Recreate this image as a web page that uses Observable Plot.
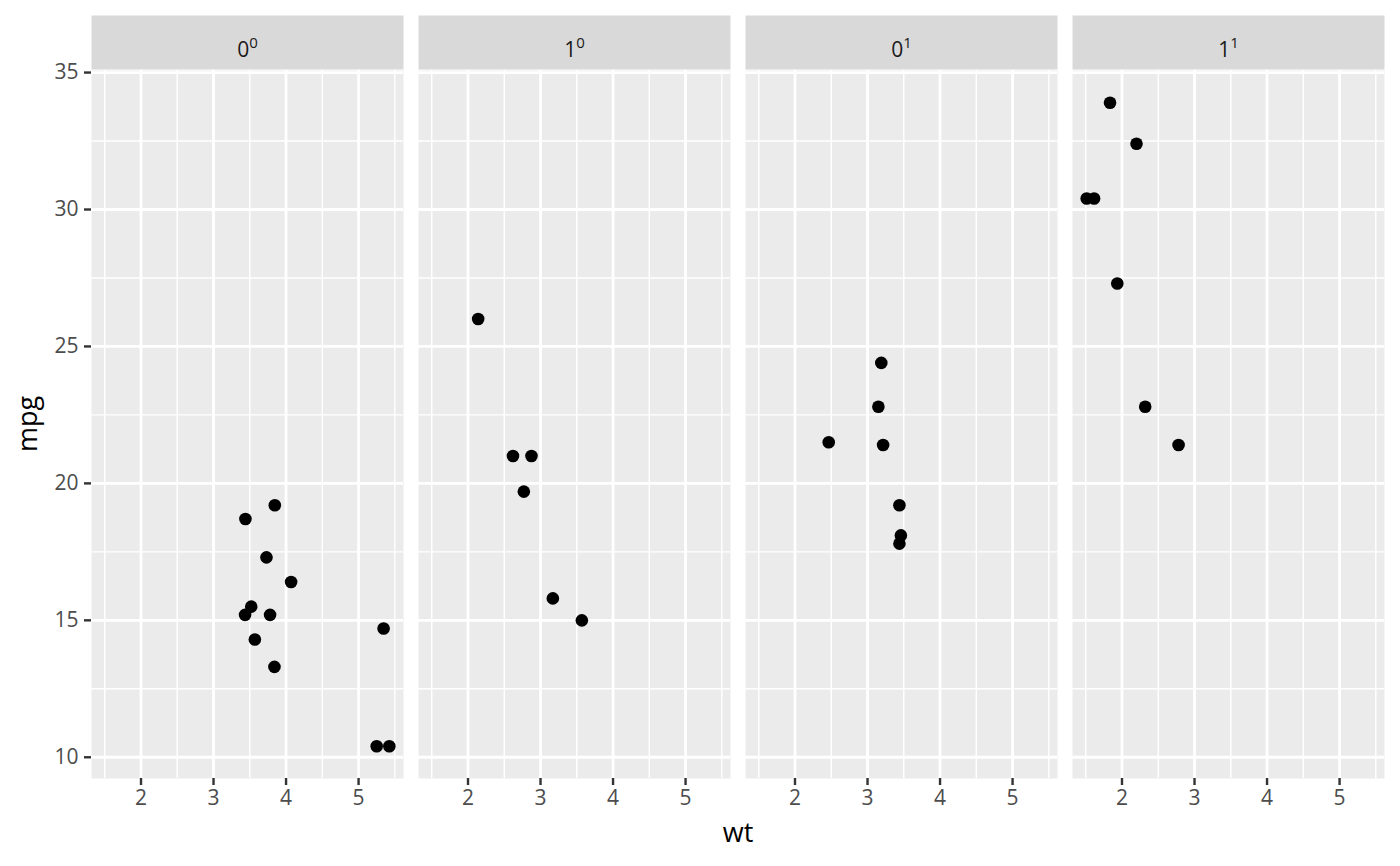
<!DOCTYPE html>
<html><head><meta charset="utf-8">
<script src="https://cdn.jsdelivr.net/npm/d3@7"></script>
<script src="https://cdn.jsdelivr.net/npm/@observablehq/plot@0.6"></script>
<style>body{margin:0;background:#fff;}</style>
</head><body><div id="chart"></div>
<script>
// mtcars: wt, mpg, vs, am
const wt  = [2.620,2.875,2.320,3.215,3.440,3.460,3.570,3.190,3.150,3.440,3.440,4.070,3.730,3.780,5.250,5.424,5.345,2.200,1.615,1.835,2.465,3.520,3.435,3.840,3.845,1.935,2.140,1.513,3.170,2.770,3.570,2.780];
const mpg = [21.0,21.0,22.8,21.4,18.7,18.1,14.3,24.4,22.8,19.2,17.8,16.4,17.3,15.2,10.4,10.4,14.7,32.4,30.4,33.9,21.5,15.5,15.2,13.3,19.2,27.3,26.0,30.4,15.8,19.7,15.0,21.4];
const vs  = [0,0,1,1,0,1,0,1,1,1,1,0,0,0,0,0,0,1,1,1,1,0,0,0,0,1,0,1,0,0,0,1];
const am  = [1,1,1,0,0,0,0,0,0,0,0,0,0,0,0,0,0,1,1,1,0,0,0,0,0,1,1,1,1,1,1,1];

const facetKeys = ["0_0","1_0","0_1","1_1"];
const stripBase = ["0","1","0","1"];
const stripSup  = ["0","0","1","1"];
const xMajor = [2,3,4,5];
const xMinor = [1.5,2.5,3.5,4.5,5.5];
const yMajor = [10,15,20,25,30,35];
const yMinor = [12.5,17.5,22.5,27.5,32.5];

const cars = wt.map((w,i)=>({wt:w, mpg:mpg[i], key:`${am[i]}_${vs[i]}`}));
const strips = facetKeys.map((k,i)=>({key:k, label: stripBase[i]+"^"+stripSup[i]}));

function expand(ext){ const d=(ext[1]-ext[0])*0.05; return [ext[0]-d, ext[1]+d]; }
const xDom = expand(d3.extent(wt));
const yDom = expand(d3.extent(mpg));

const FONT = "'Open Sans', sans-serif";
const STRIP_H = 54, STRIP_GAP = 1;

function stripRender(index, scales, values, dimensions, context, next){
  const g = next(index, scales, values, dimensions, context);
  const rects = g.tagName === "rect" ? [g] : Array.from(g.querySelectorAll("rect"));
  for (const r of rects){
    r.setAttribute("y", dimensions.marginTop - STRIP_H - STRIP_GAP);
    r.setAttribute("height", STRIP_H);
  }
  return g;
}
function supRender(index, scales, values, dimensions, context, next){
  const g = next(index, scales, values, dimensions, context);
  const ns = "http://www.w3.org/2000/svg";
  const texts = g.tagName === "text" ? [g] : Array.from(g.querySelectorAll("text"));
  for (const t of texts){
    const [b, s] = t.textContent.split("^");
    t.textContent = "";
    const t1 = document.createElementNS(ns,"tspan"); t1.textContent = b;
    const t2 = document.createElementNS(ns,"tspan"); t2.textContent = s;
    t2.setAttribute("font-size","15"); t2.setAttribute("dy","-9");
    t.append(t1, t2);
  }
  return g;
}

const chart = Plot.plot({
  width: 1400, height: 866,
  marginLeft: 91, marginRight: 15, marginTop: 70, marginBottom: 88,
  style: {fontFamily: FONT, background: "#fff"},
  fx: {domain: facetKeys, paddingInner: 0.0458, paddingOuter: 0, axis: null, label: null},
  x: {domain: xDom},
  y: {domain: yDom},
  marks: [
    Plot.frame({fill: "#ebebeb", stroke: "none"}),
    Plot.ruleX(xMinor, {stroke: "#fff", strokeWidth: 1.4}),
    Plot.ruleY(yMinor, {stroke: "#fff", strokeWidth: 1.4}),
    Plot.ruleX(xMajor, {stroke: "#fff", strokeWidth: 2.8}),
    Plot.ruleY(yMajor, {stroke: "#fff", strokeWidth: 2.8}),
    Plot.frame({fill: "#d9d9d9", stroke: "none", render: stripRender}),
    Plot.text(strips, {fx: "key", text: "label", frameAnchor: "top", dy: -28, fontSize: 21, fill: "#1a1a1a", render: supRender}),
    Plot.dot(cars, {fx: "key", x: "wt", y: "mpg", r: 6.3, fill: "#000", stroke: "none"}),
    Plot.axisX({ticks: xMajor, tickFormat: d3.format("d"), tickSize: 7, tickPadding: 5, stroke: "#333333", strokeWidth: 2.4, fill: "#4d4d4d", fontSize: 21, label: null}),
    Plot.axisY({ticks: yMajor, tickFormat: d3.format("d"), tickSize: 7, tickPadding: 6, stroke: "#333333", strokeWidth: 2.4, fill: "#4d4d4d", fontSize: 21, label: null})
  ]
});

const svg = d3.select(chart);
svg.append("text").attr("x", (91 + 1385) / 2).attr("y", 842)
  .attr("text-anchor", "middle").attr("font-family", FONT).attr("font-size", 27).attr("fill", "#000").text("wt");
svg.append("text").attr("transform", `translate(37,${(70 + 778) / 2}) rotate(-90)`)
  .attr("text-anchor", "middle").attr("font-family", FONT).attr("font-size", 27).attr("fill", "#000").text("mpg");
document.getElementById("chart").append(chart);
</script>
</body></html>
